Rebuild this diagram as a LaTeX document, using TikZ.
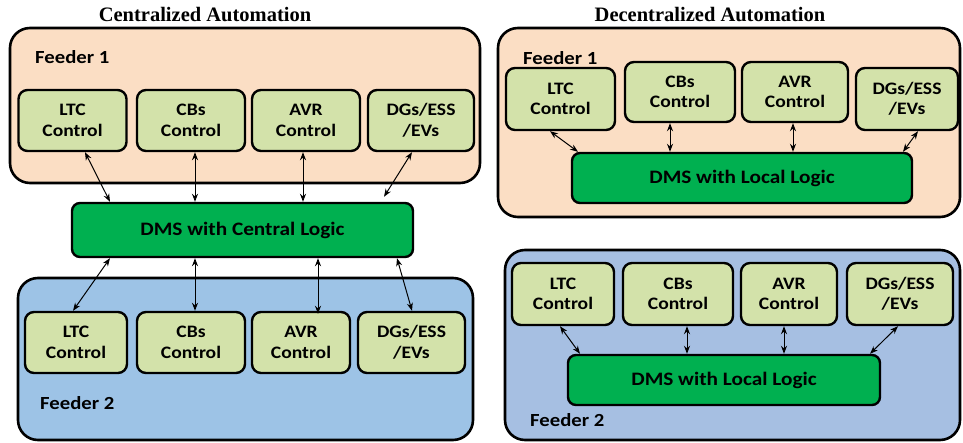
\documentclass[tikz,border=0pt]{standalone}
\usepackage{fontspec}
\setmainfont{Carlito}[FakeStretch=1.12]
\newfontfamily\titlefont{Liberation Serif}
\usepackage{tikz}
\usetikzlibrary{arrows.meta}

\definecolor{peach}{HTML}{FBDEC4}
\definecolor{feedblue}{HTML}{9DC3E6}
\definecolor{feedblueR}{HTML}{A6BFE2}
\definecolor{ctrlgreen}{HTML}{D3E2AA}
\definecolor{dmsgreen}{HTML}{00B050}

\tikzset{
  feeder/.style={draw, line width=2.6pt, rounded corners=20pt, inner sep=0pt},
  ctrl/.style={draw, line width=2.4pt, rounded corners=9pt, fill=ctrlgreen, align=center,
    minimum height=61pt, font=\fontsize{17.5}{20.5}\selectfont\bfseries, inner sep=0pt},
  dms/.style={draw, line width=2.4pt, rounded corners=8pt, fill=dmsgreen, align=center,
    minimum height=52pt, font=\fontsize{19}{21}\selectfont\bfseries, inner sep=0pt},
  label/.style={anchor=west, font=\fontsize{18.5}{21}\selectfont\bfseries, inner sep=0pt},
  ttl/.style={font=\titlefont\fontsize{20.5}{23}\selectfont\bfseries, inner sep=0pt},
  link/.style={{Stealth[length=8pt,width=6pt]}-{Stealth[length=8pt,width=6pt]}, line width=1pt}
}

\begin{document}
\begin{tikzpicture}[x=1pt, y=-1pt]
\useasboundingbox (0,0) rectangle (963,443);

% titles
\node[ttl] (ttlC) at (205,15) {Centralized Automation};
\node[ttl] (ttlD) at (710,15) {Decentralized Automation};

% centralized: feeder boxes
\path[feeder, fill=peach] (10,28) rectangle (480,183);
\path[feeder, fill=feedblue] (18,278) rectangle (473,440);
\node[label] (fa1) at (35,57) {Feeder 1};
\node[label] (fa2) at (40,403) {Feeder 2};

\node[ctrl, minimum width=108pt] (ltc1) at (72.5,120.5) {LTC\\Control};
\node[ctrl, minimum width=108pt] (cbs1) at (191,120.5) {CBs\\Control};
\node[ctrl, minimum width=108pt] (avr1) at (306,120.5) {AVR\\Control};
\node[ctrl, minimum width=106pt] (dgs1) at (421,120.5) {DGs/ESS\\/EVs};

\node[dms, minimum width=341pt, minimum height=54pt] (dmsC) at (242.5,230) {DMS with Central Logic};

\node[ctrl, minimum width=102pt] (ltc2) at (76,342.5) {LTC\\Control};
\node[ctrl, minimum width=108pt] (cbs2) at (191,342.5) {CBs\\Control};
\node[ctrl, minimum width=98pt] (avr2) at (301,342.5) {AVR\\Control};
\node[ctrl, minimum width=107pt] (dgs2) at (411.5,342.5) {DGs/ESS\\/EVs};

\draw[link] ([xshift=12.5pt]ltc1.south) -- ([xshift=-132.5pt]dmsC.north);
\draw[link] ([xshift=4pt]cbs1.south) -- ([xshift=-47.5pt]dmsC.north);
\draw[link] ([xshift=-3pt]avr1.south) -- ([xshift=60.5pt]dmsC.north);
\draw[link] ([xshift=-9pt]dgs1.south) -- ([xshift=141.5pt,yshift=5pt]dmsC.north);

\draw[link] ([xshift=-132.5pt]dmsC.south) -- ([xshift=-3pt]ltc2.north);
\draw[link] ([xshift=-47.5pt]dmsC.south) -- ([xshift=4pt]cbs2.north);
\draw[link] ([xshift=75.5pt]dmsC.south) -- ([xshift=17pt,yshift=-3pt]avr2.north);
\draw[link] ([xshift=154.5pt]dmsC.south) -- ([xshift=0.5pt]dgs2.north);

% decentralized: feeder boxes
\path[feeder, fill=peach] (498,28) rectangle (960,217);
\path[feeder, fill=feedblueR] (505,250) rectangle (960,440);
\node[label] (fb1) at (523,58) {Feeder 1};
\node[label] (fb2) at (530,420) {Feeder 2};

\node[ctrl, minimum width=109pt, minimum height=62pt] (ltc3) at (560.5,99) {LTC\\Control};
\node[ctrl, minimum width=110pt, minimum height=60pt] (cbs3) at (680,92) {CBs\\Control};
\node[ctrl, minimum width=106pt, minimum height=60pt] (avr3) at (795,92) {AVR\\Control};
\node[ctrl, minimum width=102pt, minimum height=62pt] (dgs3) at (907,99) {DGs/ESS\\/EVs};

\node[dms, minimum width=340pt, minimum height=50pt] (dmsL1) at (742,178) {DMS with Local Logic};

\draw[link] ([xshift=-10.5pt]ltc3.south) -- ([xshift=-164pt]dmsL1.north);
\draw[link] ([xshift=-10pt]cbs3.south) -- ([xshift=-72pt]dmsL1.north);
\draw[link] ([xshift=-2pt]avr3.south) -- ([xshift=51pt]dmsL1.north);
\draw[link] ([xshift=11pt]dgs3.south) -- ([xshift=161pt]dmsL1.north);

\node[ctrl, minimum width=102pt, minimum height=62pt] (ltc4) at (563,294) {LTC\\Control};
\node[ctrl, minimum width=110pt, minimum height=62pt] (cbs4) at (678,294) {CBs\\Control};
\node[ctrl, minimum width=96pt, minimum height=62pt] (avr4) at (789,294) {AVR\\Control};
\node[ctrl, minimum width=106pt, minimum height=62pt] (dgs4) at (900,294) {DGs/ESS\\/EVs};

\node[dms, minimum width=312pt, minimum height=50pt] (dmsL2) at (724,380) {DMS with Local Logic};

\draw[link] ([xshift=-3pt]ltc4.south) -- ([xshift=-144pt]dmsL2.north);
\draw[link] ([xshift=9pt]cbs4.south) -- ([xshift=-37pt]dmsL2.north);
\draw[link] ([xshift=-5pt]avr4.south) -- ([xshift=60pt]dmsL2.north);
\draw[link] ([xshift=-2pt]dgs4.south) -- ([xshift=146pt]dmsL2.north);
\end{tikzpicture}
\end{document}
